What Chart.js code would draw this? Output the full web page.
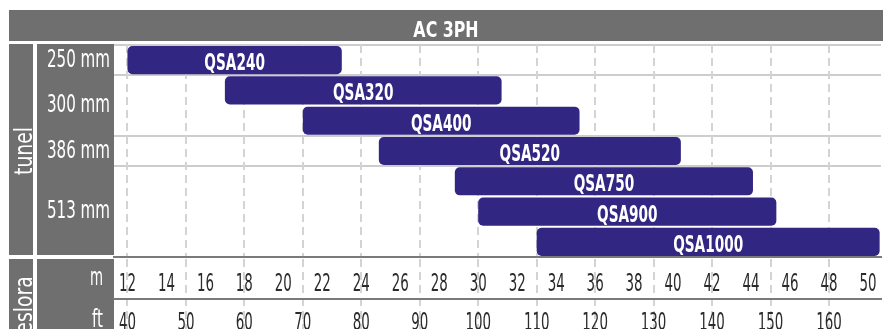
<!DOCTYPE html>
<html>
<head>
<meta charset="utf-8">
<script src="https://cdn.jsdelivr.net/npm/chart.js@4.4.1/dist/chart.umd.min.js"></script>
<style>
  body { margin: 0; background: #fff; }
  #wrap { width: 883px; height: 329px; }
</style>
</head>
<body>
<div id="wrap"><canvas id="chart" width="883" height="329"></canvas></div>
<script>
// data (metres)
const models = ['QSA240', 'QSA320', 'QSA400', 'QSA520', 'QSA750', 'QSA900', 'QSA1000'];
const rangeStart = [12, 17, 21, 24.9, 28.8, 30, 33];
const rangeEnd = [23, 31.2, 35.2, 40.4, 44.1, 45.3, 50.6];

const tunnelLabels = ['250 mm', '300 mm', '386 mm', '513 mm'];
const tunnelFirstRow = [0, 1, 3, 4];
const tunnelLastRow = [0, 2, 3, 6];

const meterTicks = [12, 14, 16, 18, 20, 22, 24, 26, 28, 30, 32, 34, 36, 38, 40, 42, 44, 46, 48, 50];
const feetTicks = [40, 50, 60, 70, 80, 90, 100, 110, 120, 130, 140, 150, 160];
const meterMin = 11.31;
const meterMax = 50.67;
const feetFactor = 0.3; // the drawing puts ft at ft * 0.3 on the metre scale

const title = 'AC 3PH';
const sideTitle = 'tunel';
const axisTitle = 'eslora';
const unitLabels = ['m', 'ft'];

const GRAY = '#6f6f6f';
const BAR = '#312783';
const FONT = '"DejaVu Sans Condensed", "DejaVu Sans", sans-serif';

// the original uses a tall condensed face, so squeeze the text sideways
function narrowText(ctx, text, x, y, size, weight, sx, align) {
    ctx.save();
    ctx.translate(x, y);
    ctx.scale(sx, 1);
    ctx.font = weight + ' ' + size + 'px ' + FONT;
    ctx.textAlign = align;
    ctx.textBaseline = 'alphabetic';
    ctx.fillText(text, 0, 0);
    ctx.restore();
}

function sideText(ctx, text, x, cy, size, sx) {
    ctx.save();
    ctx.translate(x, cy);
    ctx.rotate(-Math.PI / 2);
    narrowText(ctx, text, 0, 0, size, 'normal', sx, 'center');
    ctx.restore();
}

const panels = {
    id: 'panels',
    beforeDraw(c) {
        const ctx = c.ctx, a = c.chartArea;
        ctx.save();
        ctx.fillStyle = GRAY;
        ctx.fillRect(9, 10, c.width - 9, 31);
        ctx.fillRect(9, a.top - 1, 24, a.bottom - a.top - 1);
        ctx.fillRect(37, a.top - 1, a.left - 37, a.bottom - a.top - 1);
        ctx.fillRect(9, a.bottom + 2, 24, c.height - a.bottom);
        ctx.fillRect(37, a.bottom + 2, a.left - 37, c.height - a.bottom);

        ctx.fillStyle = '#fff';
        narrowText(ctx, title, (9 + c.width) / 2, 37, 22, 'bold', 0.8, 'center');

        const y = c.scales.y;
        tunnelLabels.forEach((t, i) => {
            const cy = (y.getPixelForValue(tunnelFirstRow[i]) + y.getPixelForValue(tunnelLastRow[i])) / 2;
            narrowText(ctx, t, a.left - 4, cy + 6.5, 24, 'normal', 0.7, 'right');
        });
        narrowText(ctx, unitLabels[0], 103, 285, 24, 'normal', 0.62, 'right');
        narrowText(ctx, unitLabels[1], 103, 327, 24, 'normal', 0.7, 'right');

        sideText(ctx, sideTitle, 32, (a.top + a.bottom) / 2, 24, 0.87);
        sideText(ctx, axisTitle, 32, 305, 24, 0.87);

        // dashed ft lines carry on through the axis rows
        const s = c.scales.x2;
        ctx.strokeStyle = '#d4d4d4';
        ctx.lineWidth = 2;
        ctx.setLineDash([8, 5]);
        s.ticks.forEach(t => {
            const x = Math.round(s.getPixelForValue(t.value));
            ctx.beginPath();
            ctx.moveTo(x, a.bottom + 2);
            ctx.lineTo(x, c.height);
            ctx.stroke();
        });
        ctx.restore();
    },
    afterDatasetsDraw(c) {
        const ctx = c.ctx;
        ctx.save();
        ctx.fillStyle = '#fff';
        c.getDatasetMeta(0).data.forEach((bar, i) => {
            narrowText(ctx, models[i], (bar.x + bar.base) / 2, bar.y + 10, 23, 'bold', 0.66, 'center');
        });
        ctx.restore();
    },
    afterDraw(c) {
        // tick labels of both length axes, placed by their scales
        const ctx = c.ctx;
        ctx.save();
        ctx.fillStyle = '#2b2b2b';
        const m = c.scales.x, f = c.scales.x2;
        m.ticks.forEach(t => narrowText(ctx, String(t.value), m.getPixelForValue(t.value), m.top + 34, 24, 'normal', 0.62, 'center'));
        f.ticks.forEach(t => narrowText(ctx, String(t.value), f.getPixelForValue(t.value), f.top + 31, 24, 'normal', 0.62, 'center'));
        ctx.restore();
    }
};

const lineRows = tunnelFirstRow;

new Chart(document.getElementById('chart'), {
    type: 'bar',
    data: {
        labels: models,
        datasets: [{
            data: models.map((m, i) => [rangeStart[i], rangeEnd[i]]),
            backgroundColor: BAR,
            borderRadius: 5,
            borderSkipped: false,
            barPercentage: 0.93,
            categoryPercentage: 1
        }]
    },
    options: {
        indexAxis: 'y',
        responsive: false,
        animation: false,
        layout: { padding: { top: 45, left: 114, right: 2, bottom: 0 } },
        plugins: { legend: { display: false }, tooltip: { enabled: false } },
        scales: {
            y: {
                ticks: { display: false },
                grid: {
                    drawTicks: false,
                    lineWidth: 2,
                    color: ctx => (ctx.type === 'tick' && lineRows.includes(ctx.index)) ? '#cdcdcd' : 'transparent'
                },
                border: { display: false },
                afterFit: s => { s.width = 0; }
            },
            x: {
                type: 'linear',
                position: 'bottom',
                min: meterMin,
                max: meterMax,
                afterBuildTicks: s => { s.ticks = meterTicks.map(v => ({ value: v })); },
                afterFit: s => { s.height = 42; },
                ticks: { display: false },
                grid: { display: false, drawTicks: false },
                border: { color: '#7a7a7a', width: 2 }
            },
            x2: {
                type: 'linear',
                position: 'bottom',
                min: meterMin / feetFactor,
                max: meterMax / feetFactor,
                afterBuildTicks: s => { s.ticks = feetTicks.map(v => ({ value: v })); },
                afterFit: s => { s.height = 30; },
                ticks: { display: false },
                grid: { drawTicks: false, color: '#d4d4d4', lineWidth: 2 },
                border: { color: '#7a7a7a', width: 2, dash: [8, 5] }
            }
        }
    },
    plugins: [panels]
});
</script>
</body>
</html>
